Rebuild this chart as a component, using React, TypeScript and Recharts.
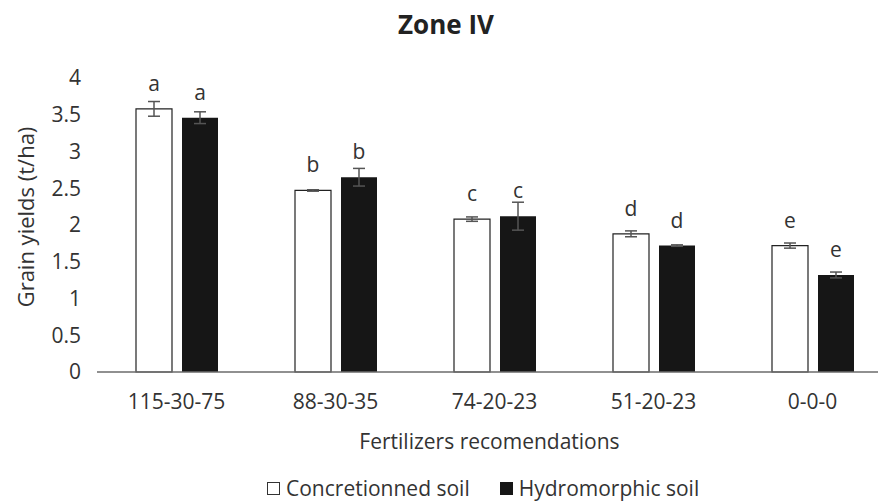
import { BarChart, Bar, XAxis, YAxis, ErrorBar, LabelList, Legend } from 'recharts'

const categories = ['115-30-75', '88-30-35', '74-20-23', '51-20-23', '0-0-0']
const concretionned = [3.58, 2.47, 2.08, 1.88, 1.72]
const concretionnedErr = [0.1, 0.01, 0.03, 0.04, 0.035]
const hydromorphic = [3.46, 2.65, 2.12, 1.72, 1.32]
const hydromorphicErr = [0.08, 0.12, 0.19, 0.01, 0.04]
const concLetters = ['a', 'b', 'c', 'd', 'e']
const hydroLetters = ['a', 'b', 'c', 'd', 'e']
const yTicks = [0, 0.5, 1, 1.5, 2, 2.5, 3, 3.5, 4]
const seriesNames = ['Concretionned soil', 'Hydromorphic soil']

const data = categories.map((name, i) => ({
  name,
  conc: concretionned[i],
  concErr: concretionnedErr[i],
  concLetter: concLetters[i],
  hydro: hydromorphic[i],
  hydroErr: hydromorphicErr[i],
  hydroLetter: hydroLetters[i],
}))

const textColor = '#333'

function YTitle() {
  return (
    <text
      x={25}
      y={217}
      transform="rotate(-90 25 217)"
      textAnchor="middle"
      dominantBaseline="central"
      fontSize={22}
      fill={textColor}
    >
      Grain yields (t/ha)
    </text>
  )
}

function XTitle(props: any) {
  const { viewBox } = props
  return (
    <text
      x={viewBox.x + viewBox.width / 2 - 5}
      y={441}
      textAnchor="middle"
      dominantBaseline="central"
      fontSize={21}
      fill={textColor}
    >
      Fertilizers recomendations
    </text>
  )
}

function LegendContent() {
  return (
    <div style={{ display: 'flex', alignItems: 'center', fontSize: 21, color: textColor, whiteSpace: 'nowrap' }}>
      <span style={{ display: 'flex', alignItems: 'center', marginRight: 30 }}>
        <span style={{ width: 11, height: 11, border: '1px solid #333', background: '#fff', marginRight: 6, display: 'inline-block' }} />
        {seriesNames[0]}
      </span>
      <span style={{ display: 'flex', alignItems: 'center' }}>
        <span style={{ width: 13, height: 13, background: '#161616', marginRight: 6, display: 'inline-block' }} />
        {seriesNames[1]}
      </span>
    </div>
  )
}

export default function App() {
  return (
    <div style={{ position: 'absolute', left: 0, top: 0, width: 878, height: 504, overflow: 'hidden', fontFamily: '"Open Sans", sans-serif', background: '#fff' }}>
      <div style={{ position: 'absolute', left: 0, top: 11, width: 892, textAlign: 'center', fontSize: 26, lineHeight: '26px', fontWeight: 700, color: '#222' }}>
        Zone IV
      </div>
      <BarChart
        width={900}
        height={504}
        data={data}
        margin={{ top: 78, right: 8, bottom: 52, left: 0 }}
        barSize={36}
        barGap={10}
      >
        <XAxis
          dataKey="name"
          height={80}
          tickLine={false}
          tickSize={6}
          tickMargin={16}
          axisLine={{ stroke: '#6b6b6b', strokeWidth: 1.5 }}
          tick={{ fill: textColor, fontSize: 21 }}
          label={<XTitle />}
        />
        <YAxis
          width={97}
          domain={[0, 4]}
          ticks={yTicks}
          axisLine={false}
          tickLine={false}
          tickSize={6}
          tickMargin={10}
          tick={{ fill: textColor, fontSize: 21 }}
          label={<YTitle />}
        />
        <Legend
          verticalAlign="middle"
          align="center"
          layout="horizontal"
          content={<LegendContent />}
          wrapperStyle={{ left: 267, top: 474, width: 'auto', height: 'auto' }}
        />
        <Bar dataKey="conc" fill="#ffffff" stroke="#222" strokeWidth={1.2} isAnimationActive={false}>
          <ErrorBar dataKey="concErr" width={6} stroke="#555" strokeWidth={1.5} />
          <LabelList dataKey="concLetter" position="top" offset={18} fill={textColor} fontSize={21} />
        </Bar>
        <Bar dataKey="hydro" fill="#161616" isAnimationActive={false}>
          <ErrorBar dataKey="hydroErr" width={6} stroke="#555" strokeWidth={1.5} />
          <LabelList dataKey="hydroLetter" position="top" offset={18} fill={textColor} fontSize={21} />
        </Bar>
      </BarChart>
    </div>
  )
}
